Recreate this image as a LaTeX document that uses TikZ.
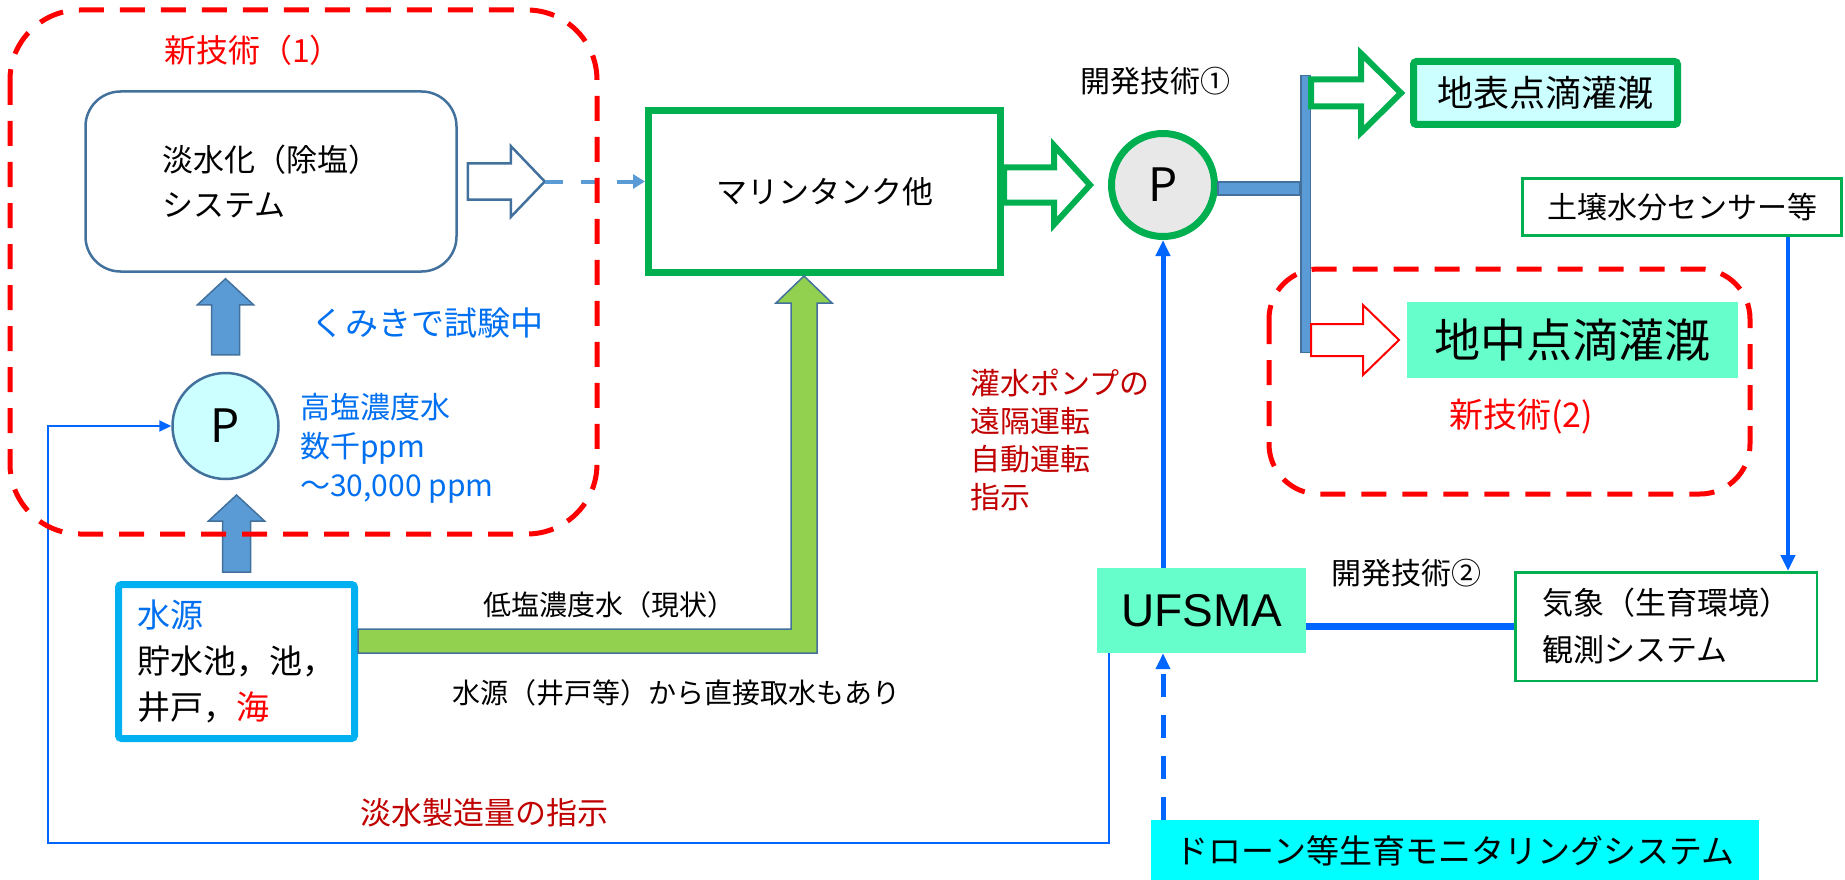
\documentclass[tikz,border=0pt]{standalone}
\usepackage{fontspec}
\setmainfont{Noto Sans CJK JP}
\newfontfamily\latinfont{Liberation Sans}
\usetikzlibrary{arrows.meta}
\definecolor{redline}{HTML}{FF0000}
\definecolor{darkred}{HTML}{C00000}
\definecolor{steel}{HTML}{41719C}
\definecolor{pipeblue}{HTML}{5B9BD5}
\definecolor{signal}{HTML}{0066FF}
\definecolor{textblue}{HTML}{0070F0}
\definecolor{okgreen}{HTML}{00B050}
\definecolor{leaf}{HTML}{92D050}
\definecolor{aqua}{HTML}{66FFCC}
\definecolor{icecyan}{HTML}{CCFFFF}
\definecolor{skycyan}{HTML}{00B0F0}
\definecolor{dronecyan}{HTML}{00FFFF}
\definecolor{pumpgrey}{HTML}{E8E8E8}
\newcommand\fsz[2]{\fontsize{#1}{#2}\selectfont}
\tikzset{
    techframe/.style={draw=redline, line width=5pt, dash pattern=on 25pt off 16pt, rounded corners=70pt},
    panel/.style={rectangle, inner sep=0pt, align=center},
    pump/.style={circle, inner sep=0pt, font=\fsz{46}{50}},
    note/.style={inner sep=0pt, anchor=west, align=left},
    pipe/.style={draw=steel, fill=pipeblue, line width=1.5pt},
    blockarrow/.style={draw=steel, fill=pipeblue, line width=1.5pt},
    signalline/.style={draw=signal, -{Triangle[length=16pt,width=14pt]}},
    pics/hollowarrow/.style n args={4}{code={
        \path[pic actions] (0,-#3) -- ({#1-#2},-#3) -- ({#1-#2},-#4) -- (#1,0)
          -- ({#1-#2},#4) -- ({#1-#2},#3) -- (0,#3) -- cycle;
        \coordinate (-tip) at (#1,0);
    }},
}
\begin{document}
\begin{tikzpicture}[x=1pt, y=-1pt]
    \useasboundingbox (0,0) rectangle (1845,880);
    \node[panel, draw=steel, line width=2.5pt, rounded corners=35pt, minimum width=371pt, minimum height=180pt, align=left, font=\fsz{31}{45}] (desal) at (271,181.5) {淡水化（除塩）\\システム};
    \node[pump, draw=steel, line width=2.5pt, fill=icecyan, minimum size=106pt] (p1) at (225.5,426) {P};
    \node[panel, draw=skycyan, line width=7pt, rounded corners=3pt, minimum width=236pt, minimum height=154pt, align=left, font=\fsz{33}{46}] (src) at (236.5,661.5) {\textcolor{textblue}{水源}\\貯水池，池，\\井戸，\textcolor{redline}{海}};
    \node[panel, draw=okgreen, line width=7pt, minimum width=352pt, minimum height=162pt, font=\fsz{31}{38}] (tank) at (824.5,191.5) {マリンタンク他};
    \node[pump, draw=okgreen, line width=7pt, fill=pumpgrey, minimum size=103pt] (p2) at (1163,185) {P};
    \node[pipe, rectangle, inner sep=0pt, minimum width=9.5pt, minimum height=276.5pt] (bar) at (1305.5,214) {};
    \node[panel, draw=okgreen, fill=icecyan, line width=7pt, rounded corners=3pt, minimum width=264pt, minimum height=63pt, font=\fsz{36}{40}] (surf) at (1545.5,93) {地表点滴灌漑};
    \node[panel, draw=okgreen, line width=3pt, minimum width=319pt, minimum height=57pt, font=\fsz{30}{34}] (sensor) at (1682,207) {土壌水分センサー等};
    \node[panel, fill=aqua, minimum width=331pt, minimum height=76pt, font=\fsz{46}{50}] (sub) at (1572.5,340) {地中点滴灌漑};
    \node[panel, fill=aqua, minimum width=209pt, minimum height=85pt, font={\latinfont\fsz{46}{52}}] (ufsma) at (1201.5,610.5) {UFSMA};
    \node[panel, draw=okgreen, line width=2.5pt, minimum width=301.5pt, minimum height=108.5pt, align=left, font=\fsz{31}{47}] (weather) at (1666,626.5) {気象（生育環境）\\観測システム};
    \node[panel, fill=dronecyan, minimum width=608pt, minimum height=62pt, font=\fsz{33}{38}] (drone) at (1455,851) {ドローン等生育モニタリングシステム};

    \node[note, text=redline, font=\fsz{32}{36}] (tech1) at (164,50) {新技術（1）};
    \node[note, text=textblue, font=\fsz{33}{40}] (trial) at (311,323) {くみきで試験中};
    \node[note, text=textblue, font=\fsz{30}{39}] (salty) at (300,448) {高塩濃度水\\数千ppm\\～30,000 ppm};
    \node[note, font=\fsz{30}{34}] (dev1) at (1080,81) {開発技術①};
    \node[note, text=darkred, font=\fsz{30}{38.3}] (remote) at (970,440) {灌水ポンプの\\遠隔運転\\自動運転\\指示};
    \node[note, font=\fsz{28}{34}] (low) at (483,605) {低塩濃度水（現状）};
    \node[note, font=\fsz{28}{34}] (direct) at (452,693) {水源（井戸等）から直接取水もあり};
    \node[note, text=darkred, font=\fsz{31}{36}] (order) at (360,813) {淡水製造量の指示};
    \node[note, font=\fsz{30}{34}] (dev2) at (1331,573) {開発技術②};
    \node[note, text=redline, font=\fsz{34}{38}] (tech2) at (1449,417) {新技術(2)};

    \pic[blockarrow, rotate=90] at ([yshift=17pt]p1.north) {hollowarrow={76}{26}{14}{28}};
    \pic[blockarrow, rotate=90] at ([yshift=9pt]src.north) {hollowarrow={77}{26}{14}{28}};
    \pic[draw=steel, fill=white, line width=2.5pt] (da) at ([xshift=10pt]desal.east) {hollowarrow={77}{34}{18}{35.5}};
    \draw[pipeblue, line width=4pt, dash pattern=on 18pt off 18pt, -{Triangle[length=12pt,width=14pt]}] (da-tip) -- (tank.west |- da-tip);
    \pic[draw=okgreen, fill=white, line width=6pt] at (tank.east |- p2) {hollowarrow={86}{36}{17.5}{39.5}};
    \draw[pipe] (p2.east |- 0,182) rectangle (bar.west |- 0,195);
    \pic[draw=okgreen, fill=white, line width=6pt] at (bar.east |- surf) {hollowarrow={90}{40}{13.5}{39.5}};
    \pic[draw=redline, fill=white, line width=2pt] at (bar.east |- sub) {hollowarrow={88}{36}{16}{35}};
    \draw[draw=steel, fill=leaf, line width=1.5pt] (src.east |- 0,629) -- (791,629) -- (791,303) -- (776,303) -- (804,276) -- (832,303) -- (817,303) -- (817,653) -- (src.east |- 0,653) -- cycle;

    \draw[signalline, line width=5pt] (p2 |- ufsma.north) -- (p2.south);
    \draw[signalline, line width=5pt, dash pattern=on 23pt off 18pt] (p2 |- drone.north) -- (p2 |- ufsma.south);
    \draw[signalline, line width=4pt] ([xshift=106pt]sensor.south) -- ([xshift=106pt]sensor.south |- weather.north);
    \draw[signal, line width=7pt] (ufsma.east |- weather.west) -- (weather.west);
    \draw[signal, line width=2pt, -{Triangle[length=12pt,width=11pt]}] ([xshift=-92.5pt]ufsma.south) |- (48,843) |- (p1.west);

    \draw[techframe] (10,10) rectangle (597,534);
    \draw[techframe, rounded corners=50pt] (1269,269) rectangle (1750,494);
\end{tikzpicture}
\end{document}
